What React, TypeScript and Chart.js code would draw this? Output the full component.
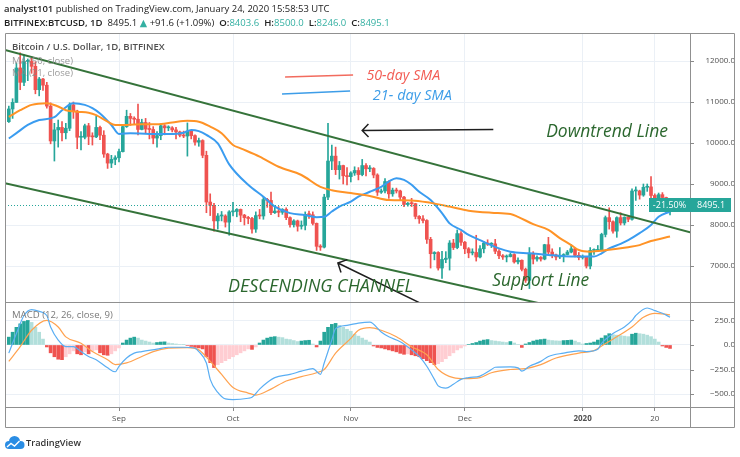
import React, { useEffect, useRef } from 'react';
import { Chart, registerables } from 'chart.js';

Chart.register(...registerables);

// ---------------- data (day index 0 = 2019-08-03, daily candles) ----------------
const opens = [
  10520, 10830, 10990, 11830, 11480, 11990, 11990, 11870, 11300, 11560, 11410, 10900, 10050, 10320, 10380, 10250, 10360, 10930, 10780, 10140, 10140, 10420, 10160, 10150, 10380, 10190, 9730, 9510, 9600,
  9640, 9790, 10400, 10650, 10600, 10580, 10330, 10500, 10340, 10330, 10120, 10180, 10420, 10370, 10370, 10320, 10270, 10190, 10170, 10290, 10180, 10020, 10060, 9700, 8560, 8480, 8100, 8220, 8220, 8070,
  8320, 8330, 8380, 8240, 8180, 8160, 7900, 8230, 8220, 8620, 8600, 8300, 8340, 8310, 8380, 8180, 8010, 8100, 7970, 7990, 8260, 8250, 8040, 7480, 7460, 8680, 9560, 9680, 9350, 9450, 9200,
  9180, 9270, 9330, 9230, 9450, 9370, 9380, 9220, 8800, 8830, 9060, 8760, 8850, 8830, 8680, 8500, 8530, 8520, 8210, 8150, 8110, 7650, 7300, 7330, 6950, 7160, 7190, 7560, 7450, 7790,
  7580, 7420, 7320, 7330, 7220, 7420, 7560, 7530, 7540, 7360, 7250, 7220, 7230, 7280, 7100, 7140, 6920, 6650, 7300, 7170, 7210, 7170, 7520, 7340, 7270, 7220, 7230, 7280, 7340, 7420, 7260,
  7210, 7230, 7000, 7380, 7380, 7390, 7770, 8180, 8080, 7850, 8180, 8050, 8190, 8140, 8830, 8830, 8730, 8920, 8930, 8720, 8640, 8740, 8670, 8403.6,
];
const highs = [
  10900, 11080, 11950, 12200, 12150, 12050, 12100, 11980, 11600, 11580, 11480, 10980, 10480, 10560, 10520, 10480, 10980, 11000, 10800, 10280, 10460, 10480, 10250, 10650, 10410, 10300, 9750, 9700, 9690,
  9850, 10450, 10800, 10720, 10640, 10950, 10580, 10600, 10500, 10400, 10280, 10460, 10450, 10420, 10400, 10380, 10290, 10290, 10490, 10310, 10200, 10120, 10080, 9800, 8760, 8530, 8280, 8330, 8250, 8350,
  8550, 8400, 8390, 8260, 8210, 8190, 8320, 8380, 8680, 8650, 8800, 8450, 8450, 8400, 8420, 8200, 8130, 8120, 8100, 8320, 8340, 8320, 8050, 7520, 8750, 10480, 9950, 9900, 9550, 9460, 9400,
  9300, 9420, 9400, 9600, 9500, 9450, 9400, 9250, 8880, 9130, 9080, 8900, 8900, 8850, 8700, 8550, 8650, 8530, 8230, 8230, 8130, 7700, 7350, 7350, 7360, 7350, 7620, 7650, 7880, 7840,
  7600, 7450, 7420, 7750, 7500, 7600, 7640, 7570, 7650, 7400, 7280, 7270, 7320, 7300, 7200, 7150, 6950, 7450, 7350, 7250, 7230, 7530, 7700, 7420, 7290, 7450, 7300, 7380, 7520, 7440, 7330,
  7270, 7230, 7450, 7420, 7500, 7800, 8220, 8420, 8100, 8200, 8300, 8200, 8200, 8880, 8930, 8850, 9000, 9000, 9180, 8760, 8780, 8790, 8680, 8500,
];
const lows = [
  10500, 10600, 10990, 11300, 11400, 11520, 11700, 11200, 11150, 11280, 10850, 9980, 9560, 9900, 10050, 10100, 10300, 10600, 9860, 9830, 10100, 9960, 9950, 10130, 10080, 9650, 9380, 9400, 9470,
  9540, 9780, 10380, 10430, 10450, 10200, 10320, 10250, 10100, 9980, 9900, 10080, 10200, 10300, 10270, 10100, 10150, 10130, 9680, 10100, 9950, 9920, 9640, 8300, 8230, 7850, 7900, 8100, 7950, 7750,
  8220, 8200, 8080, 8000, 8030, 7800, 7820, 8150, 8140, 8430, 8250, 8280, 8200, 8260, 8130, 7950, 7950, 7850, 7900, 7880, 8160, 8000, 7380, 7380, 7440, 8620, 9350, 9230, 9120, 9000, 8980,
  9050, 9210, 9100, 9200, 9200, 9300, 9150, 8720, 8770, 8780, 8650, 8700, 8780, 8600, 8450, 8460, 8450, 8150, 8040, 8050, 7550, 6950, 7150, 6900, 6700, 7080, 6900, 7400, 7420, 7500,
  7300, 7200, 7270, 7120, 7200, 7320, 7500, 7450, 7300, 7180, 7160, 7100, 7220, 7070, 7050, 6880, 6600, 6450, 7050, 7120, 7120, 7150, 7300, 7200, 7150, 7180, 7100, 7270, 7320, 7220, 7150,
  7170, 6950, 6930, 7280, 7350, 7370, 7710, 7900, 7800, 7700, 8000, 8000, 8080, 8120, 8600, 8630, 8700, 8820, 8500, 8530, 8500, 8600, 8300, 8246,
];
const closes = [
  10830, 10990, 11830, 11480, 11990, 11990, 11870, 11300, 11560, 11410, 10900, 10050, 10320, 10380, 10250, 10360, 10930, 10780, 10140, 10140, 10420, 10160, 10150, 10380, 10190, 9730, 9510, 9600, 9640,
  9790, 10400, 10650, 10600, 10580, 10330, 10500, 10340, 10330, 10120, 10180, 10420, 10370, 10370, 10320, 10270, 10190, 10170, 10290, 10180, 10020, 10060, 9700, 8560, 8480, 8100, 8220, 8220, 8070, 8320,
  8330, 8380, 8240, 8180, 8160, 7900, 8230, 8220, 8620, 8600, 8300, 8340, 8310, 8380, 8180, 8010, 8100, 7970, 7990, 8260, 8250, 8040, 7480, 7460, 8680, 9560, 9680, 9350, 9450, 9200, 9180,
  9270, 9330, 9230, 9450, 9370, 9380, 9220, 8800, 8830, 9060, 8760, 8850, 8830, 8680, 8500, 8530, 8520, 8210, 8150, 8110, 7650, 7300, 7330, 6950, 7160, 7190, 7560, 7450, 7790, 7580,
  7420, 7320, 7330, 7220, 7420, 7560, 7530, 7540, 7360, 7250, 7220, 7230, 7280, 7100, 7140, 6920, 6650, 7300, 7170, 7210, 7170, 7520, 7340, 7270, 7220, 7230, 7280, 7340, 7420, 7260, 7210,
  7230, 7000, 7380, 7380, 7390, 7770, 8180, 8080, 7850, 8180, 8050, 8190, 8140, 8830, 8830, 8730, 8920, 8930, 8720, 8640, 8740, 8670, 8403.6, 8495.1,
];

// moving averages: [day index, value]
const ma50Points = [
  [0, 10640], [3, 10800], [6, 10930], [10, 10970], [13, 10890], [15, 10800], [18, 10760], [21, 10740], [23, 10680], [26, 10520],
  [28, 10440], [31, 10440], [35, 10460], [39, 10460], [43, 10500], [47, 10540], [50, 10520], [53, 10400], [56, 10240], [59, 9950],
  [61, 9870], [66, 9670], [71, 9420], [77, 9220], [82, 8930], [85, 8850], [90, 8780], [95, 8710], [100, 8610], [106, 8600],
  [111, 8540], [116, 8450], [121, 8350], [127, 8300], [132, 8270], [134, 8200], [138, 8020], [142, 7880], [145, 7680], [148, 7510],
  [150, 7390], [153, 7350], [156, 7370], [159, 7410], [163, 7460], [166, 7510], [169, 7610], [174, 7720],
];
const ma21Points = [
  [0, 10110], [2, 10240], [5, 10440], [8, 10560], [12, 10630], [14, 10800], [17, 10970], [20, 10930], [22, 10850], [24, 10720],
  [27, 10440], [29, 10220], [32, 10240], [37, 10220], [42, 10220], [46, 10250], [48, 10320], [50, 10290], [52, 10200], [55, 9990],
  [58, 9480], [63, 8980], [67, 8690], [70, 8450], [74, 8290], [78, 8240], [81, 8190], [83, 8200], [85, 8330], [87, 8450],
  [90, 8570], [92, 8690], [95, 8810], [98, 8930], [100, 9060], [102, 9140], [104, 9100], [106, 8980], [108, 8810], [111, 8610],
  [114, 8290], [116, 8040], [119, 7880], [121, 7760], [124, 7630], [129, 7430], [132, 7350], [137, 7310], [142, 7270], [146, 7240],
  [150, 7230], [154, 7230], [156, 7310], [158, 7430], [161, 7540], [163, 7630], [166, 7800], [169, 8000], [171, 8200], [174, 8330],
];
const macdPoints = [
  [0, -83], [2, 117], [4, 300], [6, 360], [8, 343], [10, 300], [11, 183], [13, 50], [15, -17], [17, -17],
  [19, -67], [21, -117], [23, -150], [26, -233], [28, -273], [29, -217], [31, -133], [33, -83], [35, -67], [39, -43],
  [42, -23], [46, -23], [49, -33], [50, -67], [52, -183], [53, -350], [55, -483], [57, -550], [59, -557], [63, -543],
  [64, -533], [66, -450], [68, -383], [70, -333], [74, -300], [77, -267], [80, -240], [82, -300], [83, -183], [85, 50],
  [86, 167], [89, 200], [92, 223], [95, 233], [98, 133], [100, 83], [103, 33], [106, -50], [108, -117], [110, -217],
  [112, -350], [113, -417], [115, -440], [117, -400], [119, -350], [121, -333], [124, -317], [127, -250], [128, -227], [132, -223],
  [134, -233], [135, -267], [137, -217], [140, -167], [142, -117], [146, -83], [150, -60], [152, -67], [155, -43], [156, 17],
  [159, 117], [162, 183], [164, 250], [165, 300], [168, 377], [170, 350], [172, 323], [174, 283],
];
const signalPoints = [
  [0, -167], [3, -17], [6, 150], [10, 250], [13, 183], [15, 83], [19, 17], [22, -67], [26, -150], [28, -200],
  [31, -183], [35, -117], [38, -67], [42, -33], [47, -27], [50, -50], [53, -167], [56, -300], [59, -433], [63, -490],
  [65, -510], [69, -450], [73, -367], [77, -323], [81, -283], [83, -250], [86, -83], [90, 67], [92, 150], [95, 177],
  [98, 150], [102, 83], [106, -17], [110, -100], [113, -250], [117, -333], [120, -343], [124, -333], [127, -283], [132, -250],
  [136, -240], [140, -200], [144, -133], [150, -83], [154, -57], [156, -10], [160, 83], [164, 183], [167, 283], [170, 323],
  [174, 307],
];
const histogram = [
  80, 130, 180, 215, 240, 250, 230, 180, 130, 60, -20, -80, -120, -145, -150, -120, -90, -60, -90, -100, -70, -90, -60, -50, -80, -100, -105, -90, -60,
  -30, 20, 50, 70, 80, 70, 50, 40, 30, 20, 25, 30, 32, 20, 15, 10, 5, 3, -5, -15, -25, -30, -40, -120, -180, -230, -200, -180, -160, -140,
  -120, -100, -80, -60, -40, -45, -20, 20, 50, 70, 80, 85, 80, 75, 60, 55, 45, 35, 40, 45, 48, 10, -20, 40, 130, 180, 210, 220, 200, 180, 160,
  140, 110, 90, 70, 50, 30, -10, -25, -30, -40, -50, -60, -70, -85, -95, -90, -100, -110, -120, -140, -160, -180, -200, -190, -170, -140, -110, -80, -50, -30,
  -10, 5, 15, 25, 40, 50, 55, 45, 40, 35, 30, 25, 35, 20, 5, -25, 10, 25, 40, 50, 55, 60, 50, 45, 42, 40, 45, 47, 50, 40, 25,
  10, 15, 20, 30, 50, 70, 95, 115, 105, 100, 95, 90, 85, 110, 120, 115, 110, 100, 85, 60, 30, -10, -25, -35,
];

const priceTicks = [7000, 8000, 9000, 10000, 11000, 12000];
const macdTicks = [-500, -250, 0, 250];
const timeTickDays = [29, 59, 90, 120, 151, 170];
const timeTickLabels = ['Sep', 'Oct', 'Nov', 'Dec', '2020', '20'];
const changeLabel = '-21.50%';

// ---------------- annotations (in day index / price units) ----------------
const upperTrend = [[-1, 12268], [179.3, 7824]];
const lowerTrend = [[-1, 9017], [179.3, 5266]];
const arrowTop = [[127.5, 10329], [93.0, 10305]]; // tail, tip
const arrowBottom = [[108.2, 6098], [86.6, 7073]];
const swatchRed = [[72.7, 11610], [90.6, 11659]];
const swatchBlue = [[71.9, 11195], [89.8, 11268]];

// ---------------- styles ----------------
const FONT = "'Open Sans', 'DejaVu Sans', sans-serif";
const UP = '#26a69a';
const DOWN = '#ef5350';
const GRID = '#ebf0f6';
const GREEN_LINE = '#35733a';
const GREEN_TEXT = '#2b672e';
const MA_ORANGE = '#ff9326';
const MA_BLUE = '#3a9cf0';
const AXIS_TICK = '#8a8a8a';

const notes = [
  { text: '50-day SMA', at: [94.1, 11634], color: '#f25c54', width: 74 },
  { text: '21- day SMA', at: [95.8, 11159], color: '#3d9de8', width: 79 },
  { text: 'Downtrend Line', at: [141.4, 10280], color: GREEN_TEXT, width: 122 },
  { text: 'DESCENDING CHANNEL', at: [57.7, 6500], color: GREEN_TEXT, width: 185 },
  { text: 'Support Line', at: [127.2, 6634], color: GREEN_TEXT, width: 97 },
];

type Run = { t: string; c: string; w?: string; s?: string };

function drawRuns(ctx: CanvasRenderingContext2D, runs: Run[], x: number, y: number, target: number) {
  const base = 10;
  const fontOf = (r: Run, size: number) => `${r.s || 'normal'} ${r.w || 'normal'} ${size}px ${FONT}`;
  let w = 0;
  for (const r of runs) {
    ctx.font = fontOf(r, base);
    w += ctx.measureText(r.t).width;
  }
  const size = (base * target) / w;
  ctx.textBaseline = 'middle';
  ctx.textAlign = 'left';
  let cx = x;
  for (const r of runs) {
    ctx.font = fontOf(r, size);
    ctx.fillStyle = r.c;
    ctx.fillText(r.t, cx, y);
    cx += ctx.measureText(r.t).width;
  }
}

function drawArrow(ctx: CanvasRenderingContext2D, x1: number, y1: number, x2: number, y2: number, head: number) {
  const a = Math.atan2(y1 - y2, x1 - x2);
  ctx.beginPath();
  ctx.moveTo(x1, y1);
  ctx.lineTo(x2, y2);
  ctx.moveTo(x2 + head * Math.cos(a - 0.8), y2 + head * Math.sin(a - 0.8));
  ctx.lineTo(x2, y2);
  ctx.lineTo(x2 + head * Math.cos(a + 0.8), y2 + head * Math.sin(a + 0.8));
  ctx.stroke();
}

const decor = {
  id: 'tvDecor',
  afterDatasetsDraw(chart: any) {
    const { ctx, chartArea } = chart;
    const X = chart.scales.x;
    const Y = chart.scales.y;
    const Y2 = chart.scales.y2;
    const px = (v: number) => X.getPixelForValue(v);
    const py = (v: number) => Y.getPixelForValue(v);
    ctx.save();
    ctx.beginPath();
    ctx.rect(chartArea.left, Y.top, chartArea.right - chartArea.left, Y.bottom - Y.top);
    ctx.clip();

    // last price dotted line
    const lastClose = closes[closes.length - 1];
    const yl = Math.round(py(lastClose)) + 0.5;
    ctx.strokeStyle = UP;
    ctx.lineWidth = 1;
    ctx.setLineDash([1, 2]);
    ctx.beginPath();
    ctx.moveTo(chartArea.left, yl);
    ctx.lineTo(chartArea.right, yl);
    ctx.stroke();
    ctx.setLineDash([]);

    // channel lines
    ctx.strokeStyle = GREEN_LINE;
    ctx.lineWidth = 2;
    for (const seg of [upperTrend, lowerTrend]) {
      ctx.beginPath();
      ctx.moveTo(px(seg[0][0]), py(seg[0][1]));
      ctx.lineTo(px(seg[1][0]), py(seg[1][1]));
      ctx.stroke();
    }

    // legend swatches
    ctx.lineWidth = 1.6;
    ctx.strokeStyle = '#f26b5e';
    ctx.beginPath();
    ctx.moveTo(px(swatchRed[0][0]), py(swatchRed[0][1]));
    ctx.lineTo(px(swatchRed[1][0]), py(swatchRed[1][1]));
    ctx.stroke();
    ctx.strokeStyle = '#3d9de8';
    ctx.beginPath();
    ctx.moveTo(px(swatchBlue[0][0]), py(swatchBlue[0][1]));
    ctx.lineTo(px(swatchBlue[1][0]), py(swatchBlue[1][1]));
    ctx.stroke();

    // arrows
    ctx.strokeStyle = '#1e1e1e';
    ctx.lineWidth = 1.5;
    drawArrow(ctx, px(arrowTop[0][0]), py(arrowTop[0][1]), px(arrowTop[1][0]), py(arrowTop[1][1]), 9);
    drawArrow(ctx, px(arrowBottom[0][0]), py(arrowBottom[0][1]), px(arrowBottom[1][0]), py(arrowBottom[1][1]), 10);

    // notes
    for (const n of notes) {
      drawRuns(ctx, [{ t: n.text, c: n.color, s: 'italic' }], px(n.at[0]), py(n.at[1]), n.width);
    }

    // pane legends
    drawRuns(ctx, [{ t: 'Bitcoin / U.S. Dollar, 1D, BITFINEX', c: '#505050', w: '600' }], 12, 47, 153);
    ctx.globalAlpha = 0.85;
    drawRuns(ctx, [{ t: 'MA (50, close)', c: '#8a8a8a' }], 12, 61, 61);
    drawRuns(ctx, [{ t: 'MA (21, close)', c: '#8a8a8a' }], 12, 73.5, 61);
    ctx.globalAlpha = 1;
    ctx.restore();

    drawRuns(ctx, [{ t: 'MACD (12, 26, close, 9)', c: '#7a7a7a' }], 12, Y2.top + 13, 101);
  },
  afterDraw(chart: any) {
    const { ctx, chartArea } = chart;
    const Y = chart.scales.y;
    const Y2 = chart.scales.y2;
    ctx.save();
    // frame
    ctx.strokeStyle = '#909090';
    ctx.lineWidth = 1;
    ctx.beginPath();
    ctx.rect(5.5, 33.5, 729, 394);
    ctx.moveTo(chartArea.right + 0.5, 33.5);
    ctx.lineTo(chartArea.right + 0.5, 427.5);
    ctx.moveTo(5.5, Math.round(Y2.top) + 0.5);
    ctx.lineTo(734.5, Math.round(Y2.top) + 0.5);
    ctx.moveTo(5.5, Math.round(Y2.bottom) + 0.5);
    ctx.lineTo(734.5, Math.round(Y2.bottom) + 0.5);
    ctx.stroke();

    // short tick marks on the price / MACD scales
    ctx.strokeStyle = AXIS_TICK;
    ctx.beginPath();
    for (const v of priceTicks) {
      const y = Math.round(Y.getPixelForValue(v)) + 0.5;
      ctx.moveTo(chartArea.right, y);
      ctx.lineTo(chartArea.right + 4, y);
    }
    for (const v of macdTicks) {
      const y = Math.round(Y2.getPixelForValue(v)) + 0.5;
      ctx.moveTo(chartArea.right, y);
      ctx.lineTo(chartArea.right + 4, y);
    }
    ctx.stroke();

    // last price labels
    const lastClose = closes[closes.length - 1];
    const yl = Math.round(Y.getPixelForValue(lastClose));
    ctx.fillStyle = UP;
    ctx.fillRect(649, yl - 7, 41, 14);
    ctx.fillRect(chartArea.right, yl - 7, 41, 14);
    ctx.font = `9px ${FONT}`;
    ctx.fillStyle = '#ffffff';
    ctx.textBaseline = 'middle';
    ctx.textAlign = 'center';
    ctx.fillText(changeLabel, 669.5, yl + 0.5);
    ctx.textAlign = 'left';
    ctx.fillText(lastClose.toFixed(1), chartArea.right + 7, yl + 0.5);

    // header
    drawRuns(ctx, [
      { t: 'analyst101', c: '#222', w: '600' },
      { t: ' published on TradingView.com, January 24, 2020 15:58:53 UTC', c: '#222' },
    ], 4, 9, 326);
    const teal = '#35b0a2';
    drawRuns(ctx, [
      { t: 'BITFINEX:BTCUSD, 1D', c: '#222', w: '600' },
      { t: '  8495.1 ', c: '#222' },
      { t: '\u25B2', c: teal },
      { t: ' +91.6 (+1.09%)  ', c: '#222' },
      { t: 'O:', c: '#222', w: '600' },
      { t: '8403.6', c: teal },
      { t: '  H:', c: '#222', w: '600' },
      { t: '8500.0', c: teal },
      { t: '  L:', c: '#222', w: '600' },
      { t: '8246.0', c: teal },
      { t: '  C:', c: '#222', w: '600' },
      { t: '8495.1', c: teal },
    ], 4, 23, 386);

    // TradingView logo
    ctx.fillStyle = '#2a8de4';
    ctx.beginPath();
    ctx.arc(9, 445, 4, 0, Math.PI * 2);
    ctx.fill();
    ctx.beginPath();
    ctx.arc(14.5, 441.5, 5.5, 0, Math.PI * 2);
    ctx.fill();
    ctx.beginPath();
    ctx.arc(20.5, 445, 4, 0, Math.PI * 2);
    ctx.fill();
    ctx.fillRect(9, 444, 11.5, 5);
    ctx.strokeStyle = '#ffffff';
    ctx.lineWidth = 1.4;
    ctx.beginPath();
    ctx.moveTo(7, 447);
    ctx.lineTo(11, 443.5);
    ctx.lineTo(14.5, 446);
    ctx.lineTo(19.5, 441);
    ctx.stroke();
    drawRuns(ctx, [{ t: 'TradingView', c: '#333', w: '600' }], 26, 443, 55);
    ctx.restore();
  },
};

export default function App() {
  const ref = useRef<HTMLCanvasElement>(null);
  useEffect(() => {
    const canvas = ref.current!;
    Chart.defaults.font.family = FONT;
    const idx = closes.map((_, i) => i);
    const candleColor = idx.map((i) => (closes[i] >= opens[i] ? UP : DOWN));
    const histColor = histogram.map((v, i) => {
      const p = i > 0 ? histogram[i - 1] : 0;
      if (v >= 0) return v > p ? '#26a69a' : '#b2dfdb';
      return v < p ? '#ef5350' : '#ffcdd2';
    });
    const toXY = (pts: number[][]) => pts.map(([x, y]) => ({ x, y }));
    const chart = new Chart(canvas, {
      type: 'bar',
      data: {
        datasets: [
          { type: 'line', label: 'MA 50', data: toXY(ma50Points), yAxisID: 'y', borderColor: MA_ORANGE, borderWidth: 2, pointRadius: 0, cubicInterpolationMode: 'monotone', order: 0 },
          { type: 'line', label: 'MA 21', data: toXY(ma21Points), yAxisID: 'y', borderColor: MA_BLUE, borderWidth: 2, pointRadius: 0, cubicInterpolationMode: 'monotone', order: 0 },
          { type: 'bar', label: 'body', data: idx.map((i) => ({ x: i, y: [opens[i], closes[i]] })), backgroundColor: candleColor, barThickness: 3, minBarLength: 1, grouped: false, yAxisID: 'y', order: 1 },
          { type: 'bar', label: 'wick', data: idx.map((i) => ({ x: i, y: [lows[i], highs[i]] })), backgroundColor: candleColor, barThickness: 1, grouped: false, yAxisID: 'y', order: 2 },
          { type: 'bar', label: 'hist', data: idx.map((i) => ({ x: i, y: histogram[i] })), backgroundColor: histColor, barThickness: 3, grouped: false, yAxisID: 'y2', order: 3 },
          { type: 'line', label: 'MACD', data: toXY(macdPoints), yAxisID: 'y2', borderColor: '#5aaef3', borderWidth: 1.2, pointRadius: 0, cubicInterpolationMode: 'monotone', order: 0 },
          { type: 'line', label: 'Signal', data: toXY(signalPoints), yAxisID: 'y2', borderColor: '#ffa24f', borderWidth: 1.2, pointRadius: 0, cubicInterpolationMode: 'monotone', order: 0 },
        ],
      } as any,
      options: {
        responsive: false,
        animation: false,
        devicePixelRatio: 1,
        events: [],
        layout: { padding: { left: 5, top: 33, right: 5, bottom: 29 } },
        plugins: { legend: { display: false }, tooltip: { enabled: false } },
        scales: {
          x: {
            type: 'linear',
            min: -1,
            max: 179.26,
            offset: false,
            position: 'bottom',
            afterFit: (s: any) => { s.height = 21; },
            afterBuildTicks: (s: any) => { s.ticks = timeTickDays.map((v) => ({ value: v })); },
            ticks: {
              autoSkip: false,
              maxRotation: 0,
              padding: 3,
              color: '#505050',
              font: (c: any) => ({ size: 8, weight: c.tick && c.tick.value === 151 ? 'bold' : 'normal' }),
              callback: (v: any) => timeTickLabels[timeTickDays.indexOf(Number(v))] ?? '',
            },
            grid: { color: GRID, offset: false, tickLength: 4, tickColor: AXIS_TICK },
            border: { display: false },
          },
          y: {
            type: 'linear',
            position: 'right',
            stack: 'panes',
            stackWeight: 269,
            min: 6122,
            max: 12683,
            beginAtZero: false,
            afterFit: (s: any) => { s.width = 45; },
            afterBuildTicks: (s: any) => { s.ticks = priceTicks.map((v) => ({ value: v })); },
            ticks: { color: '#505050', font: { size: 8 }, crossAlign: 'far', callback: (v: any) => Number(v).toFixed(1) },
            grid: { color: GRID, tickLength: 8, tickColor: 'rgba(0,0,0,0)' },
            border: { display: false },
          },
          y2: {
            type: 'linear',
            position: 'right',
            stack: 'panes',
            stackWeight: 105,
            min: -632,
            max: 438,
            beginAtZero: false,
            afterFit: (s: any) => { s.width = 45; },
            afterBuildTicks: (s: any) => { s.ticks = macdTicks.map((v) => ({ value: v })); },
            ticks: {
              color: '#505050',
              font: { size: 8 },
              crossAlign: 'far',
              callback: (v: any) => { const n = Number(v); return (n < 0 ? '\u2212' : '') + Math.abs(n).toFixed(1); },
            },
            grid: { color: GRID, tickLength: 3, tickColor: 'rgba(0,0,0,0)' },
            border: { display: false },
          },
        },
      } as any,
      plugins: [decor],
    });
    return () => chart.destroy();
  }, []);
  return (
    <div style={{ position: 'absolute', left: 0, top: 0, width: 740, height: 457, background: '#ffffff' }}>
      <canvas ref={ref} width={740} height={457} style={{ display: 'block', width: 740, height: 457 }} />
    </div>
  );
}
